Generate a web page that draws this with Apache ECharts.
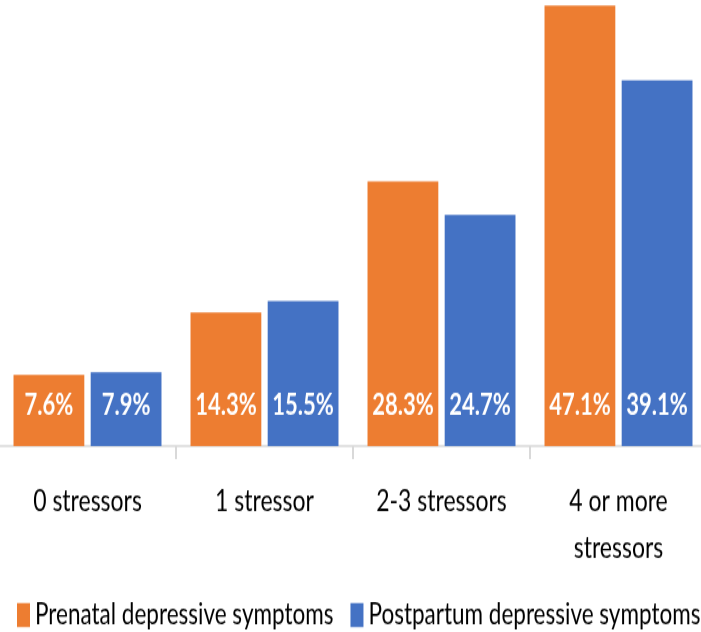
<!DOCTYPE html>
<html>
<head>
<meta charset="utf-8">
<script src="https://cdn.jsdelivr.net/npm/echarts@6/dist/echarts.min.js"></script>
<style>
  html, body { margin: 0; padding: 0; background: #fff; overflow: hidden; }
  #wrap { width: 701px; height: 632px; overflow: hidden; }
  /* The chart is laid out at 486px tall and stretched vertically to 632px,
     giving the tall, narrow lettering of the original figure. */
  #chart { width: 701px; height: 486px; transform: scaleY(1.3004); transform-origin: 0 0; }
</style>
</head>
<body>
<div id="wrap"><div id="chart"></div></div>
<script>
// Share of women with depressive symptoms by number of stressors
const categories = ['0 stressors', '1 stressor', '2-3 stressors', '4 or more\nstressors'];
const prenatal = [7.6, 14.3, 28.3, 47.1];
const postpartum = [7.9, 15.5, 24.7, 39.1];
const seriesNames = ['Prenatal depressive symptoms', 'Postpartum depressive symptoms'];

const FONT = 'Lato, "Open Sans", sans-serif';

const chart = echarts.init(document.getElementById('chart'), null, { renderer: 'canvas' });

const barLabel = {
  show: true,
  position: 'insideBottom',
  distance: 20,
  color: '#ffffff',
  fontFamily: FONT,
  fontWeight: 'bold',
  fontSize: 22,
  formatter: p => p.value.toFixed(1) + '%'
};

chart.setOption({
  animation: false,
  color: ['#ED7D31', '#4472C4'],
  grid: {
    left: -1, top: -16.6, width: 708, height: 359.6,
    containLabel: false,
    outerBoundsMode: 'none'
  },
  legend: {
    left: 17,
    top: 461.5,
    width: 700,
    padding: 0,
    itemWidth: 13,
    itemHeight: 18.5,
    itemGap: 17,
    icon: 'rect',
    textStyle: { fontFamily: FONT, fontSize: 22.5, color: '#000' },
    data: seriesNames
  },
  xAxis: {
    type: 'category',
    data: categories,
    axisLine: { show: true, lineStyle: { color: '#d9d9d9', width: 1.5 } },
    axisTick: { show: true, length: 10, lineStyle: { color: '#d9d9d9', width: 2 } },
    axisLabel: {
      fontFamily: FONT,
      fontSize: 23,
      color: '#000',
      lineHeight: 36,
      margin: 25,
      interval: 0
    }
  },
  yAxis: {
    type: 'value',
    min: 0,
    max: 50,
    show: false,
    splitLine: { show: false }
  },
  series: [
    {
      name: seriesNames[0],
      type: 'bar',
      data: prenatal,
      barWidth: '40%',
      barGap: '9%',
      label: barLabel
    },
    {
      name: seriesNames[1],
      type: 'bar',
      data: postpartum,
      barWidth: '40%',
      barGap: '9%',
      label: barLabel
    }
  ]
});
</script>
</body>
</html>
